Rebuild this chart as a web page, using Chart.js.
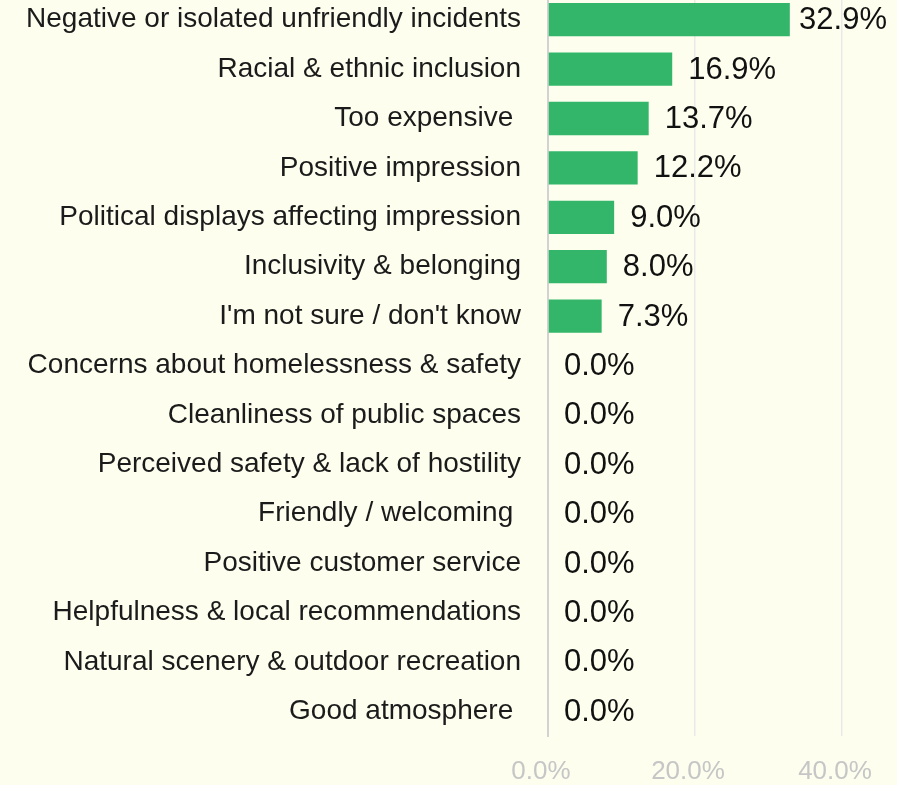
<!DOCTYPE html>
<html>
<head>
<meta charset="utf-8">
<script src="https://cdn.jsdelivr.net/npm/chart.js@4.4.0/dist/chart.umd.min.js"></script>
<style>
  html, body { margin: 0; padding: 0; background: #fdfeee; overflow: hidden; }
  #wrap { position: relative; width: 897px; height: 790px; margin-top: -5px; }
</style>
</head>
<body>
<div id="wrap"><canvas id="c" width="897" height="790"></canvas></div>
<script>
const categories = [
  "Negative or isolated unfriendly incidents",
  "Racial & ethnic inclusion",
  "Too expensive ",
  "Positive impression",
  "Political displays affecting impression",
  "Inclusivity & belonging",
  "I'm not sure / don't know",
  "Concerns about homelessness & safety",
  "Cleanliness of public spaces",
  "Perceived safety & lack of hostility",
  "Friendly / welcoming ",
  "Positive customer service",
  "Helpfulness & local recommendations",
  "Natural scenery & outdoor recreation",
  "Good atmosphere "
];
const shares = [32.9, 16.9, 13.7, 12.2, 9.0, 8.0, 7.3, 0, 0, 0, 0, 0, 0, 0, 0];
const xTicks = [0, 20, 40];

const FONT = "'Liberation Sans', Arial, sans-serif";

const valueLabels = {
  id: 'valueLabels',
  afterDatasetsDraw(chart) {
    const ctx = chart.ctx;
    const meta = chart.getDatasetMeta(0);
    ctx.save();
    ctx.font = "31px " + FONT;
    ctx.fillStyle = "#111111";
    ctx.textBaseline = "middle";
    ctx.textAlign = "left";
    meta.data.forEach((bar, i) => {
      const txt = shares[i].toFixed(1) + "%";
      const w = ctx.measureText(txt).width;
      let x = bar.x + 16;
      if (x + w > chart.width - 10) x = chart.width - 10 - w;
      ctx.fillText(txt, x, bar.y + 1);
    });
    ctx.restore();
  }
};

new Chart(document.getElementById('c'), {
  type: 'bar',
  data: {
    labels: categories,
    datasets: [{
      data: shares,
      backgroundColor: '#33b66a',
      borderWidth: 0,
      barPercentage: 0.75,
      categoryPercentage: 0.9
    }]
  },
  options: {
    indexAxis: 'y',
    responsive: false,
    animation: false,
    devicePixelRatio: 1,
    layout: { padding: { left: 0, right: 55, top: 0, bottom: 0 } },
    plugins: { legend: { display: false }, tooltip: { enabled: false } },
    scales: {
      x: {
        min: 0, max: 40,
        afterBuildTicks(scale) { scale.ticks = xTicks.map(v => ({ value: v })); },
        grid: { color: '#e9e9e9', lineWidth: 1.5, drawTicks: false },
        border: { display: false },
        ticks: {
          padding: 20,
          labelOffset: -7,
          color: '#c6c6c6',
          font: { family: FONT, size: 26 },
          callback: v => Number(v).toFixed(1) + '%'
        },
        afterFit(scale) { scale.height = 49; scale.paddingLeft = 0; scale.paddingRight = 0; }
      },
      y: {
        grid: { display: false, drawTicks: false },
        border: { display: true, color: '#d2d2d2', width: 2 },
        ticks: {
          padding: 27,
          color: '#1b1b1b',
          font: { family: FONT, size: 28 }
        },
        afterFit(scale) {
          scale.width = 548;
          scale.paddingTop = 0;
          scale.paddingBottom = 0;
        }
      }
    }
  },
  plugins: [valueLabels]
});
</script>
</body>
</html>
